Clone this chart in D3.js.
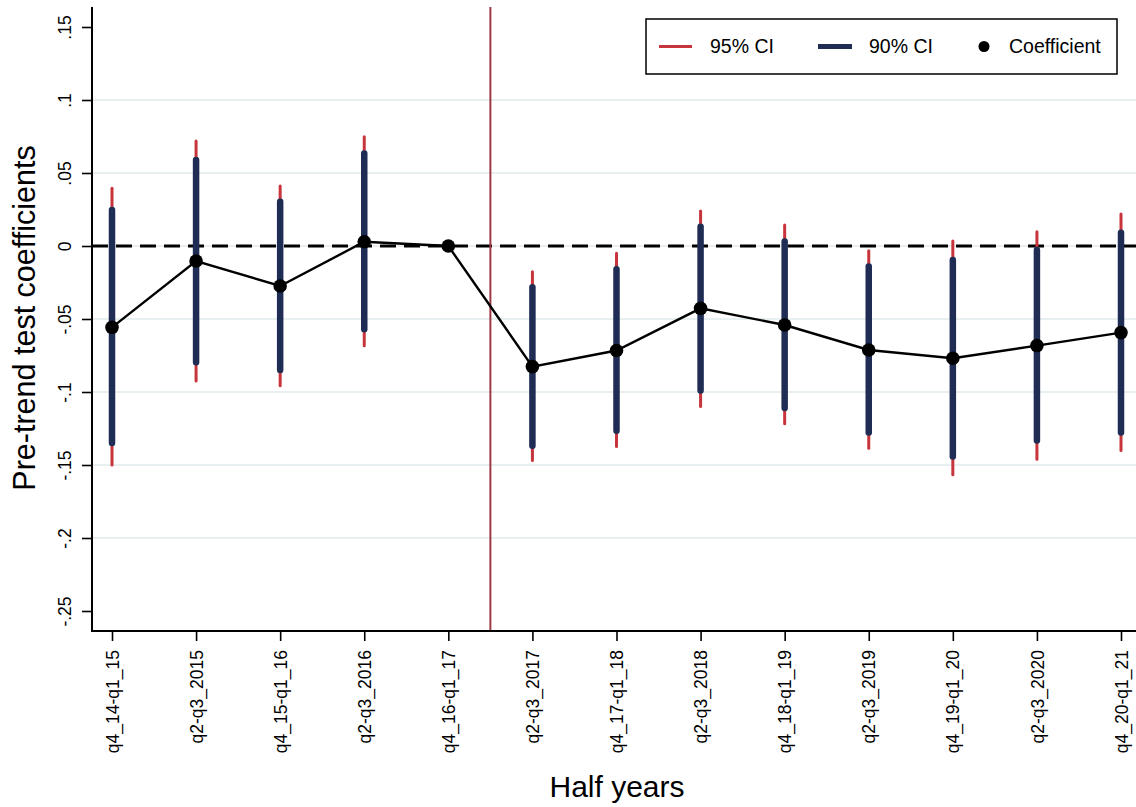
<!DOCTYPE html>
<html>
<head>
<meta charset="utf-8">
<script src="https://cdn.jsdelivr.net/npm/d3@7"></script>
<style>
  html, body { margin: 0; padding: 0; background: #fff; }
  svg { display: block; font-family: "Liberation Sans", Arial, Helvetica, sans-serif; }
</style>
</head>
<body>
<svg id="chart" width="1136" height="807"></svg>
<script>
const categories = ["q4_14-q1_15","q2-q3_2015","q4_15-q1_16","q2-q3_2016","q4_16-q1_17",
  "q2-q3_2017","q4_17-q1_18","q2-q3_2018","q4_18-q1_19","q2-q3_2019","q4_19-q1_20","q2-q3_2020","q4_20-q1_21"];
const coef  = [-0.0557, -0.0103, -0.0274, 0.0029, 0, -0.0826, -0.0716, -0.0427, -0.0541, -0.0712, -0.0769, -0.0682, -0.0593];
const ci90lo = [-0.135, -0.0796, -0.0849, -0.057, null, -0.1369, -0.1266, -0.099, -0.111, -0.1278, -0.1442, -0.1332, -0.1278];
const ci90hi = [0.0246, 0.0589, 0.0303, 0.0634, null, -0.0283, -0.016, 0.0132, 0.0030, -0.0141, -0.0096, -0.0027, 0.0091];
const ci95lo = [-0.150, -0.0924, -0.0958, -0.0684, null, -0.147, -0.1373, -0.110, -0.1218, -0.1385, -0.1567, -0.146, -0.140];
const ci95hi = [0.0395, 0.0719, 0.0411, 0.0748, null, -0.0176, -0.005, 0.024, 0.0144, -0.0032, 0.0034, 0.0098, 0.0219];
const yTicks = [0.15, 0.1, 0.05, 0, -0.05, -0.1, -0.15, -0.2, -0.25];
const yTickLabels = [".15", ".1", ".05", "0", "-.05", "-.1", "-.15", "-.2", "-.25"];
const gridTicks = [0.1, 0.05, 0, -0.05, -0.1, -0.15, -0.2];
const legendLabels = ["95% CI", "90% CI", "Coefficient"];
const xTitle = "Half years";
const yTitle = "Pre-trend test coefficients";

(function () {
const RED = "#c8343b", NAVY = "#1f2d55", VLINE = "#9a3a44", GRID = "#e8eff1";

const svg = d3.select("#chart");
const pLeft = 92, pRight = 1136, pTop = 7, pBottom = 631;

const x = d3.scalePoint().domain(categories).range([112, 1121]);
const y = d3.scaleLinear().domain([-0.25, 0.15]).range([611, 27]);

// gridlines
svg.append("g").selectAll("line").data(gridTicks).join("line")
  .attr("x1", pLeft).attr("x2", pRight)
  .attr("y1", d => y(d)).attr("y2", d => y(d))
  .attr("stroke", GRID).attr("stroke-width", 2);

// zero dashed line
svg.append("line").attr("x1", pLeft).attr("x2", pRight)
  .attr("y1", y(0)).attr("y2", y(0))
  .attr("stroke", "#000").attr("stroke-width", 2.8).attr("stroke-dasharray", "16,8");

// vertical reference line between periods 5 and 6
const vx = (x(categories[4]) + x(categories[5])) / 2;
svg.append("line").attr("x1", vx).attr("x2", vx).attr("y1", pTop).attr("y2", pBottom)
  .attr("stroke", VLINE).attr("stroke-width", 2);

const idx = d3.range(categories.length).filter(i => ci95lo[i] !== null);

// 95% CI
svg.append("g").selectAll("line").data(idx).join("line")
  .attr("x1", i => x(categories[i])).attr("x2", i => x(categories[i]))
  .attr("y1", i => y(ci95lo[i])).attr("y2", i => y(ci95hi[i]))
  .attr("stroke", RED).attr("stroke-width", 3).attr("stroke-linecap", "round");

// 90% CI
svg.append("g").selectAll("line").data(idx).join("line")
  .attr("x1", i => x(categories[i])).attr("x2", i => x(categories[i]))
  .attr("y1", i => y(ci90lo[i])).attr("y2", i => y(ci90hi[i]))
  .attr("stroke", NAVY).attr("stroke-width", 6.5).attr("stroke-linecap", "round");

// connecting line
const line = d3.line().x((d, i) => x(categories[i])).y(d => y(d));
svg.append("path").datum(coef).attr("d", line)
  .attr("fill", "none").attr("stroke", "#000").attr("stroke-width", 2.4);

// coefficient points
svg.append("g").selectAll("circle").data(coef).join("circle")
  .attr("cx", (d, i) => x(categories[i])).attr("cy", d => y(d))
  .attr("r", 6.8).attr("fill", "#000");

// y axis
const yAxis = d3.axisLeft(y).tickValues(yTicks).tickSize(10)
  .tickFormat((d, i) => yTickLabels[i]);
const gy = svg.append("g").attr("transform", `translate(${pLeft},0)`).call(yAxis);
gy.select(".domain").remove();
gy.selectAll(".tick line").attr("stroke", "#000").attr("stroke-width", 1.6);
gy.selectAll(".tick text")
  .attr("transform", "rotate(-90)")
  .attr("x", 0).attr("y", -21).attr("dy", 0)
  .attr("text-anchor", "middle")
  .attr("font-size", 17.5).attr("fill", "#000");
svg.append("line").attr("x1", pLeft).attr("x2", pLeft).attr("y1", pTop).attr("y2", pBottom)
  .attr("stroke", "#000").attr("stroke-width", 2);

// x axis
const xAxis = d3.axisBottom(x).tickSize(10);
const gx = svg.append("g").attr("transform", `translate(0,${pBottom})`).call(xAxis);
gx.select(".domain").remove();
gx.selectAll(".tick line").attr("stroke", "#000").attr("stroke-width", 1.6);
gx.selectAll(".tick text")
  .attr("transform", "rotate(-90)")
  .attr("x", -19).attr("y", 0).attr("dy", "0.35em")
  .attr("text-anchor", "end")
  .attr("font-size", 17.5).attr("fill", "#000");
svg.append("line").attr("x1", pLeft - 1).attr("x2", pRight).attr("y1", pBottom).attr("y2", pBottom)
  .attr("stroke", "#000").attr("stroke-width", 2);

// axis titles
svg.append("text").attr("x", 617).attr("y", 797).attr("text-anchor", "middle")
  .attr("font-size", 30).attr("fill", "#000").text(xTitle);
svg.append("text").attr("transform", "translate(35,318) rotate(-90)")
  .attr("text-anchor", "middle").attr("font-size", 30.5).attr("fill", "#000").text(yTitle);

// legend
const lg = svg.append("g");
lg.append("rect").attr("x", 646).attr("y", 19).attr("width", 471).attr("height", 55)
  .attr("fill", "#fff").attr("stroke", "#000").attr("stroke-width", 1.5);
const ly = 46.5;
lg.append("line").attr("x1", 659).attr("x2", 692).attr("y1", ly).attr("y2", ly)
  .attr("stroke", RED).attr("stroke-width", 3);
lg.append("text").attr("x", 710).attr("y", ly).attr("dy", "0.35em")
  .attr("font-size", 19.5).text(legendLabels[0]);
lg.append("line").attr("x1", 818).attr("x2", 852).attr("y1", ly).attr("y2", ly)
  .attr("stroke", NAVY).attr("stroke-width", 5);
lg.append("text").attr("x", 869).attr("y", ly).attr("dy", "0.35em")
  .attr("font-size", 19.5).text(legendLabels[1]);
lg.append("circle").attr("cx", 984).attr("cy", ly).attr("r", 5.5).attr("fill", "#000");
lg.append("text").attr("x", 1009).attr("y", ly).attr("dy", "0.35em")
  .attr("font-size", 19.5).text(legendLabels[2]);
})();
</script>
</body>
</html>
